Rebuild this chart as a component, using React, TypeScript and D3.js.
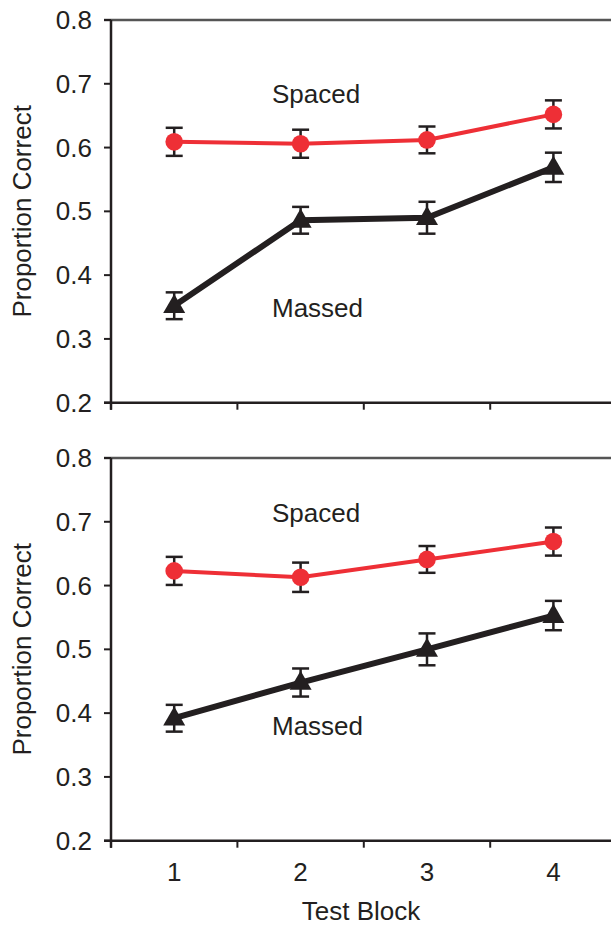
import React from "react";
import * as d3 from "d3";

const blocks = [1, 2, 3, 4];
const yTicks = [0.2, 0.3, 0.4, 0.5, 0.6, 0.7, 0.8];

const topSpaced = [0.609, 0.606, 0.612, 0.652];
const topSpacedErr = [0.022, 0.022, 0.021, 0.022];
const topMassed = [0.352, 0.486, 0.49, 0.569];
const topMassedErr = [0.021, 0.021, 0.025, 0.023];

const botSpaced = [0.623, 0.613, 0.641, 0.669];
const botSpacedErr = [0.022, 0.023, 0.021, 0.022];
const botMassed = [0.392, 0.448, 0.5, 0.553];
const botMassedErr = [0.021, 0.022, 0.025, 0.023];

const panels = [
  { spaced: topSpaced, spacedErr: topSpacedErr, massed: topMassed, massedErr: topMassedErr, spacedLabelY: 0.67, massedLabelY: 0.334 },
  { spaced: botSpaced, spacedErr: botSpacedErr, massed: botMassed, massedErr: botMassedErr, spacedLabelY: 0.7, massedLabelY: 0.366 },
];

const W = 611;
const H = 927;
const left = 111;
const bandW = 126.4;
const panelTops = [20, 458];
const panelH = 382.7;
const RED = "#ee2f36";
const INK = "#231f20";
const FONT = "'Liberation Sans', Arial, Helvetica, sans-serif";
const FS = 26;

function Panel({ p, top, showX }: { p: any; top: number; showX: boolean }) {
  const x = d3.scaleBand<number>().domain(blocks).range([left, left + bandW * 4]);
  const y = d3.scaleLinear().domain([0.2, 0.8]).range([top + panelH, top]);
  const cx = (b: number) => (x(b) as number) + x.bandwidth() / 2;
  const line = d3
    .line<number>()
    .x((_, i) => cx(blocks[i]))
    .y((v) => y(v));
  const tri = d3.symbol().type(d3.symbolTriangle).size(210)();
  const cap = 8.5;
  const errBars = (vals: number[], errs: number[]) =>
    vals.map((v, i) => {
      const xc = cx(blocks[i]);
      return (
        <g key={i} stroke={INK} strokeWidth={2.5}>
          <line x1={xc} x2={xc} y1={y(v + errs[i])} y2={y(v - errs[i])} />
          <line x1={xc - cap} x2={xc + cap} y1={y(v + errs[i])} y2={y(v + errs[i])} />
          <line x1={xc - cap} x2={xc + cap} y1={y(v - errs[i])} y2={y(v - errs[i])} />
        </g>
      );
    });
  return (
    <g>
      <line x1={left - 7} x2={W} y1={top} y2={top} stroke="#555" strokeWidth={2.5} />
      <line x1={left} x2={left} y1={top} y2={top + panelH + 7} stroke={INK} strokeWidth={2.5} />
      {yTicks.map((t) => (
        <g key={t}>
          <line x1={left - 7} x2={left} y1={y(t)} y2={y(t)} stroke={INK} strokeWidth={2} />
          <text x={92} y={y(t)} dy="0.35em" textAnchor="end" fontSize={FS} fill={INK} fontFamily={FONT}>
            {t.toFixed(1)}
          </text>
        </g>
      ))}
      <line x1={left - 7} x2={W} y1={top + panelH} y2={top + panelH} stroke={INK} strokeWidth={2.5} />
      {blocks.map((b) => (
        <line key={b} x1={x(b) as number} x2={x(b) as number} y1={top + panelH} y2={top + panelH + 7} stroke={INK} strokeWidth={2} />
      ))}
      {showX &&
        blocks.map((b) => (
          <text key={b} x={cx(b)} y={881} textAnchor="middle" fontSize={FS} fill={INK} fontFamily={FONT}>
            {b}
          </text>
        ))}
      <text
        transform={`translate(31,${top + panelH / 2}) rotate(-90)`}
        textAnchor="middle"
        fontSize={FS}
        fill={INK}
        fontFamily={FONT}
      >
        Proportion Correct
      </text>
      <path d={line(p.spaced) as string} fill="none" stroke={RED} strokeWidth={4} />
      <path d={line(p.massed) as string} fill="none" stroke={INK} strokeWidth={6} />
      {errBars(p.spaced, p.spacedErr)}
      {errBars(p.massed, p.massedErr)}
      {p.spaced.map((v: number, i: number) => (
        <circle key={i} cx={cx(blocks[i])} cy={y(v)} r={8.8} fill={RED} />
      ))}
      {p.massed.map((v: number, i: number) => (
        <path key={i} d={tri as string} transform={`translate(${cx(blocks[i])},${y(v) + 1})`} fill={INK} />
      ))}
      <text x={272} y={y(p.spacedLabelY)} fontSize={FS} fill={INK} fontFamily={FONT}>
        Spaced
      </text>
      <text x={272} y={y(p.massedLabelY)} fontSize={FS} fill={INK} fontFamily={FONT}>
        Massed
      </text>
    </g>
  );
}

export default function App() {
  return (
    <svg width={W} height={H} style={{ position: "absolute", left: 0, top: 0 }}>
      <rect width={W} height={H} fill="#fff" />
      {panels.map((p, i) => (
        <Panel key={i} p={p} top={panelTops[i]} showX={i === 1} />
      ))}
      <text x={361} y={920} textAnchor="middle" fontSize={FS} fill={INK} fontFamily={FONT}>
        Test Block
      </text>
    </svg>
  );
}
